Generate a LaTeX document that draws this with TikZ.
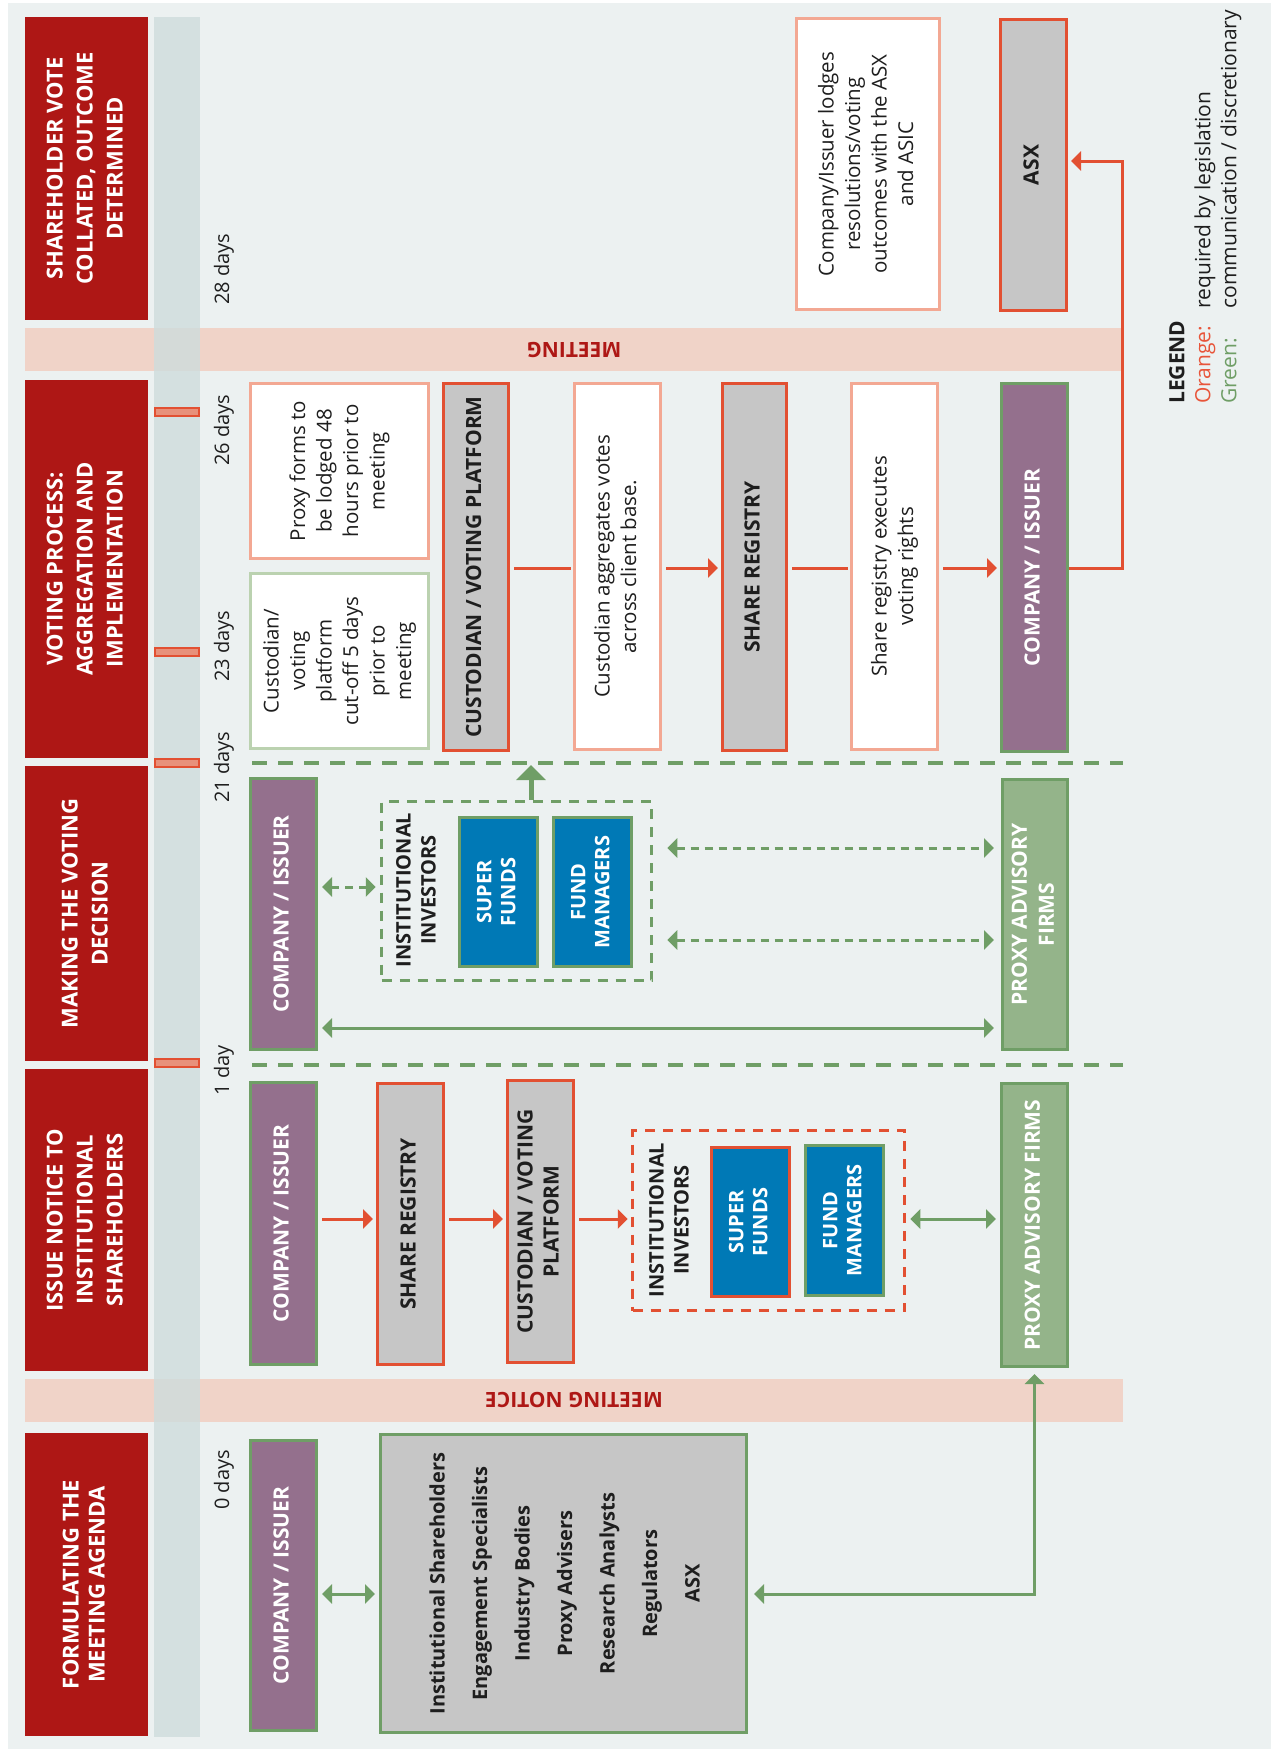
\documentclass[tikz,border=0pt]{standalone}
\usepackage{fontspec}
\setmainfont{Open Sans}
\usepackage{graphicx}
\usetikzlibrary{arrows.meta}

\definecolor{bgcol}{RGB}{236,241,241}
\definecolor{timecol}{RGB}{206,220,220}
\definecolor{hdrred}{RGB}{174,23,21}
\definecolor{bandpink}{RGB}{240,211,200}
\definecolor{orred}{RGB}{226,80,50}
\definecolor{salmon}{RGB}{243,168,147}
\definecolor{grnline}{RGB}{111,158,102}
\definecolor{grnfill}{RGB}{148,180,138}
\definecolor{ltgreen}{RGB}{187,210,176}
\definecolor{purp}{RGB}{148,112,141}
\definecolor{bluebox}{RGB}{0,121,182}
\definecolor{regrey}{RGB}{198,198,198}
\definecolor{tickfill}{RGB}{232,145,123}
\definecolor{darktext}{RGB}{30,30,30}
\definecolor{legor}{RGB}{232,85,58}

\newcommand{\vt}[1]{\rotatebox{90}{\begin{tabular}{@{}c@{}}#1\end{tabular}}}

\tikzset{
  sz/.style 2 args={minimum width=#1pt, minimum height=#2pt},
  hdr/.style={fill=hdrred, inner sep=0pt, text=white, font=\fontsize{22}{30}\selectfont\bfseries},
  cmpbox/.style={fill=purp, draw=grnline, line width=3pt, inner sep=0pt, text=white, font=\fontsize{21}{26}\selectfont\bfseries},
  gbox/.style={fill=regrey, draw=orred, line width=3pt, inner sep=0pt, text=darktext, font=\fontsize{21}{26}\selectfont\bfseries},
  notebox/.style={fill=white, draw=salmon, line width=3pt, inner sep=0pt, text=darktext, font=\fontsize{20.5}{26.5}\selectfont},
  pxbox/.style={fill=grnfill, draw=grnline, line width=3pt, inner sep=0pt, text=white, font=\fontsize{21}{27}\selectfont\bfseries},
  fundbox/.style={fill=bluebox, draw=grnline, line width=3pt, inner sep=0pt, text=white, font=\fontsize{20}{24}\selectfont\bfseries},
  invbox/.style={line width=3.5pt, dash pattern=on 10pt off 8pt, inner sep=0pt},
  invlbl/.style={text=darktext, font=\fontsize{20}{25}\selectfont\bfseries},
  dayl/.style={rotate=90, text=darktext, font=\fontsize{20}{22}\selectfont},
  bandlbl/.style={rotate=180, text=hdrred, font=\fontsize{21}{25}\selectfont\bfseries},
  dayline/.style={draw=grnline, line width=4.5pt, dash pattern=on 15pt off 11pt},
  rar/.style={draw=orred, line width=3pt, ->, shorten <=4pt, shorten >=3pt},
  rln/.style={draw=orred, line width=3pt, shorten <=4pt, shorten >=2pt},
  gar/.style={draw=grnline, line width=3pt, <->, shorten <=4pt, shorten >=4pt},
  gdar/.style={gar, dash pattern=on 8pt off 6pt},
}

\begin{document}
\begin{tikzpicture}[x=1pt, y=-1pt, >={Triangle[length=10pt,width=19pt]}]
\useasboundingbox (0,0) rectangle (1271,1749);
\fill[bgcol] (8,3) rectangle (1271,1749);
\fill[bandpink] (25,328) rectangle (1123,371);
\fill[bandpink] (25,1379) rectangle (1123,1422);
\fill[timecol, fill opacity=0.8] (154,17) rectangle (200,1737);
\foreach \ty in {412,652,763,1063}
  \draw[orred, fill=tickfill, line width=1.5pt] (155,\ty-4) rectangle (199,\ty+4);
\node[bandlbl] (mtg) at (574,350) {MEETING};
\node[bandlbl] (ntc) at (574,1400) {MEETING NOTICE};

% phases
\node[hdr, sz={123}{303}] (hA) at (86.5,168.5) {\vt{SHAREHOLDER VOTE\\COLLATED, OUTCOME\\DETERMINED}};
\node[hdr, sz={123}{378}] (hB) at (86.5,569) {\vt{VOTING PROCESS:\\AGGREGATION AND\\IMPLEMENTATION}};
\node[hdr, sz={123}{295}] (hC) at (86.5,913.5) {\vt{MAKING THE VOTING\\DECISION}};
\node[hdr, sz={123}{302}] (hD) at (86.5,1220) {\vt{ISSUE NOTICE TO\\INSTITUTIONAL\\SHAREHOLDERS}};
\node[hdr, sz={123}{303}, font=\fontsize{22}{26}\selectfont\bfseries] (hE) at (86.5,1584.5) {\vt{FORMULATING THE\\MEETING AGENDA}};

\node[dayl] (d28) at (224,269) {28 days};
\node[dayl] (d26) at (224,430) {26 days};
\node[dayl] (d23) at (224,646) {23 days};
\node[dayl] (d21) at (224,767) {21 days};
\node[dayl] (d1) at (224,1070) {1 day};
\node[dayl] (d0) at (224,1480) {0 days};

\coordinate (sA1) at (252,763); \coordinate (sA2) at (1123,763);
\coordinate (sB1) at (252,1065); \coordinate (sB2) at (1123,1065);
\draw[dayline] (sA1) -- (sA2);
\draw[dayline] (sB1) -- (sB2);

% 28 days
\node[notebox, sz={143}{291}] (lodge) at (868,164) {\vt{Company/Issuer lodges\\resolutions/voting\\outcomes with the ASX\\and ASIC}};
\node[gbox, sz={66}{291}] (asx) at (1033.5,165) {\vt{ASX}};

% voting process
\node[notebox, draw=ltgreen, sz={178}{175}] (cutoff) at (339.5,661) {\vt{Custodian/\\voting\\platform\\cut-off 5 days\\prior to\\meeting}};
\node[notebox, sz={178}{175}] (lodged) at (339.5,471) {\vt{Proxy forms to\\be lodged 48\\hours prior to\\meeting}};
\node[gbox, sz={65}{367}] (custB) at (476,567) {\vt{CUSTODIAN / VOTING PLATFORM}};
\node[notebox, sz={86}{366}] (aggr) at (617.5,566.5) {\vt{Custodian aggregates votes\\across client base.}};
\node[gbox, sz={64}{367}] (regB) at (754.5,567) {\vt{SHARE REGISTRY}};
\node[notebox, sz={86}{366}] (exec) at (894.5,566.5) {\vt{Share registry executes\\voting rights}};
\node[cmpbox, sz={66}{368}] (cmpB) at (1034.5,567.5) {\vt{COMPANY / ISSUER}};
\coordinate (rB) at (0,568);
\coordinate (asxin) at (1122,161);
\draw[rln] (custB.east |- rB) -- (aggr.west |- rB);
\draw[rar] (aggr.east |- rB) -- (regB.west |- rB);
\draw[rln] (regB.east |- rB) -- (exec.west |- rB);
\draw[rar] (exec.east |- rB) -- (cmpB.west |- rB);
\draw[rar, shorten <=0pt] (cmpB.east |- rB) -| (asxin) -- (asx.east |- asxin);

% voting decision
\node[cmpbox, sz={66}{271}] (cmpC) at (283.5,914) {\vt{COMPANY / ISSUER}};
\node[invbox, draw=grnline, sz={270}{179}] (invC) at (516.5,891) {};
\node[invlbl] (invlC) at (418,890) {\vt{INSTITUTIONAL\\INVESTORS}};
\node[fundbox, sz={78}{149}] (supC) at (498.5,892) {\vt{SUPER\\FUNDS}};
\node[fundbox, sz={78}{149}] (fmC) at (592.5,892) {\vt{FUND\\MANAGERS}};
\node[pxbox, sz={65}{270}] (pxC) at (1035,914.5) {\vt{PROXY ADVISORY\\FIRMS}};
\coordinate (rC1) at (0,887);
\coordinate (rC2) at (0,848);
\coordinate (rC3) at (0,940);
\coordinate (rC4) at (0,1028);
\draw[gdar] (cmpC.east |- rC1) -- (invC.west |- rC1);
\draw[gdar, shorten <=14pt, shorten >=7pt] (invC.east |- rC2) -- (pxC.west |- rC2);
\draw[gdar, shorten <=14pt, shorten >=7pt] (invC.east |- rC3) -- (pxC.west |- rC3);
\draw[gar, shorten >=7pt] (cmpC.east |- rC4) -- (pxC.west |- rC4);
\draw[draw=grnline, line width=5pt, -{Triangle[length=15pt,width=29pt]}, shorten >=2pt] ([xshift=14.5pt]invC.north) -- ([xshift=14.5pt]invC.north |- sA1);

% issue notice
\node[cmpbox, sz={66}{282}] (cmpD) at (283.5,1223.5) {\vt{COMPANY / ISSUER}};
\node[gbox, sz={66}{281}] (regD) at (410.5,1224) {\vt{SHARE REGISTRY}};
\node[gbox, sz={66}{282}] (custD) at (540.5,1221.5) {\vt{CUSTODIAN / VOTING\\PLATFORM}};
\node[invbox, draw=orred, sz={272}{180}] (invD) at (768.5,1220.5) {};
\node[invlbl] (invlD) at (671,1220) {\vt{INSTITUTIONAL\\INVESTORS}};
\node[fundbox, draw=orred, sz={78}{149}] (supD) at (750.5,1222) {\vt{SUPER\\FUNDS}};
\node[fundbox, sz={78}{150}] (fmD) at (844.5,1220.5) {\vt{FUND\\MANAGERS}};
\node[pxbox, sz={66}{283}] (pxD) at (1034.5,1225) {\vt{PROXY ADVISORY FIRMS}};
\coordinate (rD) at (0,1219);
\draw[rar] (cmpD.east |- rD) -- (regD.west |- rD);
\draw[rar] (regD.east |- rD) -- (custD.west |- rD);
\draw[rar] (custD.east |- rD) -- (invD.west |- rD);
\draw[gar] (invD.east |- rD) -- (pxD.west |- rD);

% agenda
\node[cmpbox, sz={66}{290}] (cmpE) at (283.5,1585.5) {\vt{COMPANY / ISSUER}};
\node[gbox, draw=grnline, font=\fontsize{20}{42.5}\selectfont\bfseries, sz={366}{298}] (agd) at (563.5,1583.5) {\vt{Institutional Shareholders\\Engagement Specialists\\Industry Bodies\\Proxy Advisers\\Research Analysts\\Regulators\\ASX}};
\coordinate (rE) at (0,1594);
\draw[gar] (cmpE.east |- rE) -- (agd.west |- rE);
\draw[gar, shorten <=6pt, shorten >=6pt] (agd.east |- rE) -| (pxD.south);

\node[rotate=90, anchor=north west, inner sep=0pt, text=darktext, font=\fontsize{21}{26}\selectfont] (legend) at (1166,404) {\begin{tabular}{@{}l@{\hspace{12pt}}l@{}}\textbf{LEGEND}&\\ \textcolor{legor}{Orange:}&required by legislation\\ \textcolor{grnline}{Green:}&communication / discretionary\end{tabular}};
\end{tikzpicture}
\end{document}
